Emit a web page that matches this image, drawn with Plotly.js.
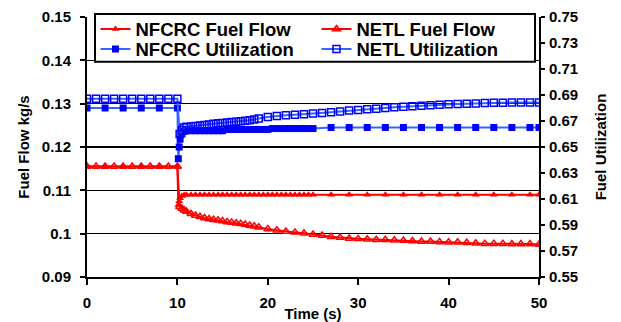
<!DOCTYPE html>
<html>
<head>
<meta charset="utf-8">
<script src="https://cdn.plot.ly/plotly-3.0.1.min.js"></script>
<style>
  html, body { margin: 0; padding: 0; background: #fff; }
  #chart { width: 621px; height: 322px; }
</style>
</head>
<body>
<div id="chart"></div>
<script>
// Time bases (s)
const nfcrcTime = [0, 2, 4, 6, 8, 10,
  10.1, 10.2, 10.3, 10.5, 10.75,
  11, 11.5, 12, 12.5, 13, 13.5, 14, 14.5, 15, 15.5, 16, 16.5, 17, 17.5, 18, 18.5,
  19, 19.5, 20, 20.5, 21, 21.5, 22, 22.5, 23, 23.5, 24, 24.5, 25,
  27, 29, 31, 33, 35, 37, 39, 41, 43, 45, 47, 49, 50];

const netlTime = [0, 1, 2, 3, 4, 5, 6, 7, 8, 9, 10,
  10.25, 10.5, 10.75,
  11, 11.5, 12, 12.5, 13, 13.5, 14, 14.5, 15, 15.5, 16, 16.5, 17, 17.5, 18, 18.5,
  19, 20, 21, 22, 23, 24, 25, 26, 27, 28, 29, 30, 31, 32, 33, 34,
  35, 36, 37, 38, 39, 40, 41, 42, 43, 44, 45, 46, 47, 48, 49, 50];

// Fuel flow (kg/s)
const nfcrcFlow = [0.1155, 0.1155, 0.1155, 0.1155, 0.1155, 0.1155,
  0.1066, 0.1075, 0.1082, 0.1087, 0.1089,
  0.109, 0.109, 0.109, 0.109, 0.109, 0.109, 0.109, 0.109, 0.109, 0.109,
  0.109, 0.109, 0.109, 0.109, 0.109, 0.109, 0.109, 0.109, 0.109, 0.109,
  0.109, 0.109, 0.109, 0.109, 0.109, 0.109, 0.109, 0.109, 0.109,
  0.109, 0.109, 0.109, 0.109, 0.109, 0.109, 0.109, 0.109, 0.109, 0.109, 0.109, 0.109, 0.109];

const netlFlow = [0.1155, 0.1155, 0.1155, 0.1155, 0.1155, 0.1155, 0.1155, 0.1155, 0.1155, 0.1155, 0.1155,
  0.1062, 0.1058, 0.1054,
  0.1051, 0.1046, 0.1042, 0.1039, 0.1036, 0.1034, 0.1032, 0.1031, 0.1029, 0.1027,
  0.1026, 0.1024, 0.1023, 0.1021, 0.1019, 0.1017,
  0.1015, 0.1011, 0.1008, 0.1005, 0.1003, 0.1001, 0.0998, 0.0996, 0.0993, 0.0991,
  0.0989, 0.0988, 0.0987, 0.0986, 0.0986, 0.0985, 0.0984, 0.0983, 0.0982, 0.0982,
  0.0981, 0.0980, 0.0980, 0.0979, 0.0978, 0.0977, 0.0977, 0.0977, 0.0976, 0.0976,
  0.0976, 0.0975];

// Fuel utilization (-)
const nfcrcUtil = [0.680, 0.680, 0.680, 0.680, 0.680, 0.680,
  0.641, 0.650, 0.656, 0.660, 0.662,
  0.6625, 0.6625, 0.6625, 0.6625, 0.6625, 0.6625, 0.6625, 0.6625, 0.6625,
  0.6635, 0.6635, 0.6635, 0.6635, 0.6635, 0.6635, 0.6635, 0.6635, 0.6635, 0.6635,
  0.6642, 0.6642, 0.6642, 0.6642, 0.6642, 0.6642, 0.6642, 0.6642, 0.6642, 0.6642,
  0.665, 0.665, 0.665, 0.665, 0.665, 0.665, 0.665, 0.665, 0.665, 0.665, 0.665, 0.665, 0.665];

const netlUtil = [0.6872, 0.6872, 0.6872, 0.6872, 0.6872, 0.6872, 0.6872, 0.6872, 0.6872, 0.6872, 0.6872,
  0.660, 0.663, 0.665,
  0.6655, 0.6658, 0.6662, 0.6666, 0.667, 0.6674, 0.6678, 0.6682, 0.6685, 0.6688,
  0.6692, 0.6695, 0.6698, 0.6702, 0.6706, 0.6712,
  0.672, 0.673, 0.6738, 0.6744, 0.6748, 0.6752, 0.6757, 0.6762, 0.6768, 0.6774,
  0.678, 0.6785, 0.679, 0.6795, 0.68, 0.6806, 0.681, 0.6814, 0.6818, 0.6822,
  0.6825, 0.6828, 0.683, 0.6832, 0.6835, 0.6838, 0.684, 0.6841, 0.6842, 0.6842,
  0.6842, 0.6842];

// Axis ticks
const timeTicks = [0, 10, 20, 30, 40, 50];
const flowTicks = [0.09, 0.10, 0.11, 0.12, 0.13, 0.14, 0.15];
const flowTickText = ['0.09', '0.1', '0.11', '0.12', '0.13', '0.14', '0.15'];
const utilTicks = [0.55, 0.57, 0.59, 0.61, 0.63, 0.65, 0.67, 0.69, 0.71, 0.73, 0.75];
const utilTickText = ['0.55', '0.57', '0.59', '0.61', '0.63', '0.65', '0.67', '0.69', '0.71', '0.73', '0.75'];

const FAMILY = 'Liberation Sans, Arial, sans-serif';
const RED = '#FF0000';
const BLUE = '#0000FF';
const LIGHTBLUE = '#3366FF';

const traces = [
  {
    name: 'NFCRC Fuel Flow', x: nfcrcTime, y: nfcrcFlow, yaxis: 'y', legend: 'legend',
    mode: 'lines+markers',
    line: { color: RED, width: 2 },
    marker: { symbol: 'triangle-up', size: 7, color: RED }
  },
  {
    name: 'NETL Fuel Flow', x: netlTime, y: netlFlow, yaxis: 'y', legend: 'legend',
    mode: 'lines+markers',
    line: { color: RED, width: 2 },
    marker: { symbol: 'triangle-up-open', size: 7, color: RED, line: { width: 1.5 } }
  },
  {
    name: 'NFCRC Utilization', x: nfcrcTime, y: nfcrcUtil, yaxis: 'y2', legend: 'legend2',
    mode: 'lines+markers',
    line: { color: LIGHTBLUE, width: 2 },
    marker: { symbol: 'square', size: 7, color: BLUE }
  },
  {
    name: 'NETL Utilization', x: netlTime, y: netlUtil, yaxis: 'y2', legend: 'legend2',
    mode: 'lines+markers',
    line: { color: LIGHTBLUE, width: 2 },
    marker: { symbol: 'square-open', size: 7, color: BLUE, line: { width: 1.5 } }
  }
];

const tickFont = { family: FAMILY, size: 15, color: '#000', weight: 'bold' };
const titleFont = { family: FAMILY, size: 15, color: '#000', weight: 'bold' };
const legendFont = { family: FAMILY, size: 18.5, color: '#000', weight: 'bold' };

// Two legend rows share one framed box drawn as a shape.
const legendRow = {
  orientation: 'h', traceorder: 'normal',
  x: 0.0188, xanchor: 'left', yanchor: 'top',
  entrywidth: 176, entrywidthmode: 'pixels',
  bgcolor: 'rgba(0,0,0,0)', borderwidth: 0,
  font: legendFont
};

const layout = {
  width: 621, height: 322,
  margin: { l: 87, r: 82, t: 16, b: 45, pad: 0 },
  paper_bgcolor: '#fff', plot_bgcolor: '#fff',
  showlegend: true,
  xaxis: {
    range: [0, 50], tickvals: timeTicks, ticktext: timeTicks.map(String),
    ticks: 'outside', ticklen: 6, tickwidth: 2, tickcolor: '#000',
    ticklabelstandoff: 5,
    showline: true, linecolor: '#000', linewidth: 2,
    showgrid: false, zeroline: false,
    tickfont: tickFont,
    title: { text: 'Time (s)', font: titleFont, standoff: 0 }
  },
  yaxis: {
    range: [0.09, 0.15], tickvals: flowTicks, ticktext: flowTickText,
    ticks: 'outside', ticklen: 5, tickwidth: 2, tickcolor: '#000',
    ticklabelstandoff: 6,
    showline: true, linecolor: '#000', linewidth: 2,
    showgrid: true, gridcolor: '#000', gridwidth: 1.3, zeroline: false,
    tickfont: tickFont,
    title: { text: 'Fuel Flow kg/s', font: titleFont, standoff: 9 }
  },
  yaxis2: {
    overlaying: 'y', side: 'right',
    range: [0.55, 0.75], tickvals: utilTicks, ticktext: utilTickText,
    ticks: 'outside', ticklen: 4, tickwidth: 2, tickcolor: '#000',
    ticklabelstandoff: 1,
    showline: true, linecolor: '#000', linewidth: 2,
    showgrid: false, zeroline: false,
    tickfont: tickFont,
    title: { text: 'Fuel Utilization', font: titleFont, standoff: 18 }
  },
  yaxis3: {
    overlaying: 'y', side: 'right', range: [0.55, 0.75], tickvals: utilTicks,
    ticks: 'inside', ticklen: 4, tickwidth: 2, tickcolor: '#000',
    showticklabels: false, showline: false, showgrid: false, zeroline: false
  },
  legend: Object.assign({}, legendRow, { y: 1.0211 }),
  legend2: Object.assign({}, legendRow, { y: 0.9444 }),
  shapes: [{
    type: 'rect', xref: 'paper', yref: 'paper', layer: 'above',
    x0: 0.0177, x1: 0.9912, y0: 0.8276, y1: 1.0115,
    fillcolor: '#ffffff', line: { color: '#000000', width: 2 }
  }]
};

Plotly.newPlot('chart', traces, layout, { staticPlot: true, displayModeBar: false });
</script>
</body>
</html>
